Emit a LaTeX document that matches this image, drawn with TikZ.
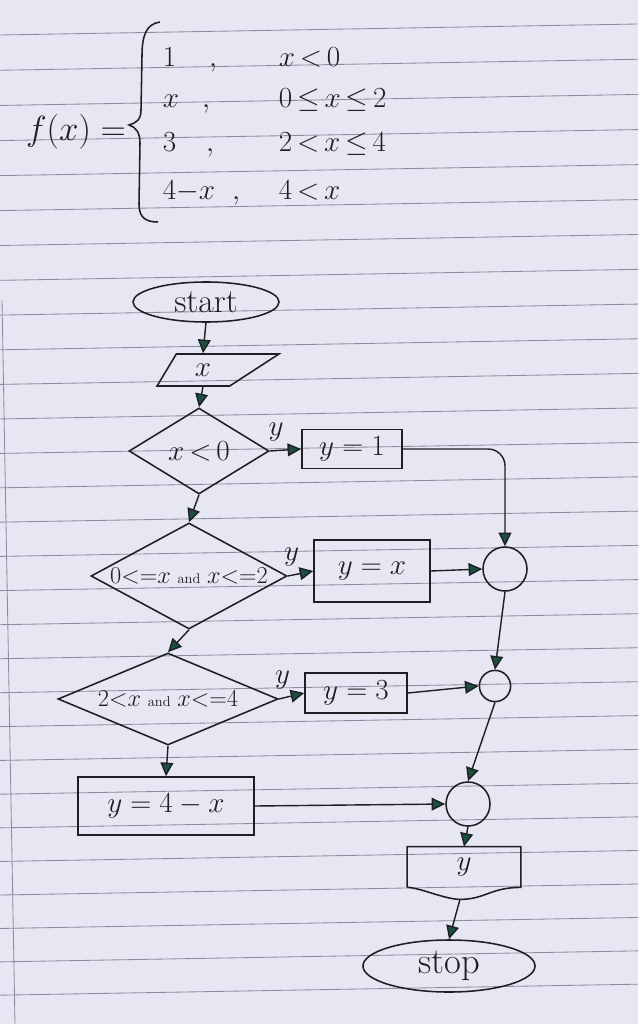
\documentclass[tikz,border=0pt]{standalone}
\usepackage{fontspec}
\usepackage{amsmath}
\usepackage{tikz}
\usetikzlibrary{arrows.meta,shapes.geometric,positioning,calc}

\definecolor{paper}{RGB}{231,230,243}
\definecolor{ruling}{RGB}{140,140,158}
\definecolor{ink}{RGB}{30,30,35}
\definecolor{arrowgreen}{RGB}{26,80,64}

\begin{document}
\begin{tikzpicture}[
      x = 0.025cm, y = -0.025cm, % one unit is one pixel of the sheet
      > = {Triangle[length=3.4mm,width=3.2mm,fill=arrowgreen]}, % arrow head style
      line width = 1.1pt,
      flow/.style = {->, draw = ink, line width = 1pt},
      terminal/.style = {ellipse, draw = ink, text = ink, inner sep = 0pt, font = \fontsize{24}{28}\selectfont},
      inputbox/.style = {trapezium, trapezium left angle = 65, trapezium right angle = 140,
        trapezium stretches = true, draw = ink, text = ink, inner sep = 0pt, font = \fontsize{22}{26}\selectfont},
      decision/.style = {diamond, draw = ink, text = ink, inner sep = 0pt},
      procbox/.style = {rectangle, draw = ink, text = ink, inner sep = 0pt, font = \fontsize{20}{24}\selectfont},
      junction/.style = {circle, draw = ink, inner sep = 0pt},
      answer/.style = {above = 1mm, text = ink, font = \fontsize{20}{24}\selectfont},
      fxrow/.style = {text = ink, inner sep = 0pt, font = \fontsize{22}{26}\selectfont}
      ]

  % the ruled sheet
  \fill[paper] (0,0) rectangle (638,1024);
  \useasboundingbox (0,0) rectangle (638,1024);
  \begin{scope}
    \clip (0,0) rectangle (638,1024);
    \foreach \k [evaluate = \k as \yl using 35+35.3*\k-0.036*\k*\k] in {0,...,28}
      \draw[ruling, line width = 0.6pt] (0,\yl) -- (638,\yl-11);
    \draw[ruling, line width = 0.6pt] (2,300) -- (15,1024);
  \end{scope}

  % definition of f
  \node[fxrow, font = \fontsize{26}{30}\selectfont] (fx) at (76,132) {$f(x)=$};
  \draw[ink] (160,22) .. controls (146,24) and (142,36) .. (142,56) -- (141,110)
    .. controls (141,120) and (136,123) .. (129,125)
    .. controls (136,127) and (140,133) .. (140,143) -- (139,204)
    .. controls (139,217) and (145,222) .. (158,222);
  \foreach \val/\comma/\cond/\row [count=\i] in {1/213/x\,{<}\,0/67, x/206/0\,{\le}\,x\,{\le}\,2/108,
      3/210/2\,{<}\,x\,{\le}\,4/152, 4{-}x/236/4\,{<}\,x/200} {
    \node[fxrow, anchor = base west] (val\i) at (162,\row) {$\val$};
    \node[fxrow, anchor = base] at (\comma,\row) {$,$};
    \node[fxrow, anchor = base west] (cond\i) at (278,\row) {$\cond$};
  }

  % flowchart
  \node[terminal, minimum width = 3.65cm, minimum height = 1cm] (start) at (206,302) {start};
  \node[inputbox, minimum width = 3.05cm, minimum height = 0.8cm] (in) at (203,370) {$x$};
  \node[decision, aspect = 1.65, minimum width = 3.5cm, minimum height = 2.15cm,
    font = \fontsize{22}{26}\selectfont] (d1) at (199,451) {$x\,{<}\,0$};
  \node[decision, aspect = 1.85, minimum width = 4.9cm, minimum height = 2.65cm,
    font = \fontsize{16}{19}\selectfont] (d2) at (189,576)
    {$0{<}{=}x$ {\fontsize{10}{12}\selectfont and} $x{<}{=}2$};
  \node[decision, aspect = 2.4, minimum width = 5.5cm, minimum height = 2.3cm,
    font = \fontsize{16}{19}\selectfont] (d3) at (168,699)
    {$2{<}x$ {\fontsize{10}{12}\selectfont and} $x{<}{=}4$};
  \node[procbox, minimum width = 2.5cm, minimum height = 0.98cm] (b1) at (352,449) {$y=1$};
  \node[procbox, minimum width = 2.9cm, minimum height = 1.55cm] (b2) at (372,571) {$y = x$};
  \node[procbox, minimum width = 2.55cm, minimum height = 1cm] (b3) at (356,693) {$y=3$};
  \node[procbox, minimum width = 4.4cm, minimum height = 1.45cm] (b4) at (166,806) {$y = 4 - x$};
  \node[junction, minimum size = 1.1cm] (c1) at (505,569) {};
  \node[junction, minimum size = 0.78cm] (c2) at (495,686) {};
  \node[junction, minimum size = 1.1cm] (c3) at (468,804) {};
  \node[rectangle, inner sep = 0pt, minimum width = 2.8cm, minimum height = 0.98cm, text = ink,
    font = \fontsize{22}{26}\selectfont] (out) at (464,867) {$y$};
  \coordinate (outbot) at ($(out.south)+(-4,12)$);
  \draw[ink] (out.south west) -- (out.north west) -- (out.north east) -- (out.south east)
    .. controls +(-30,0) and +(25,0) .. (outbot)
    .. controls +(-15,0) and +(12,0) .. (out.south west);
  \node[terminal, minimum width = 4.3cm, minimum height = 1.3cm, font = \fontsize{26}{30}\selectfont]
    (stop) at (449,966) {stop};

  % connectors
  \draw[flow] (start.south) -- (in.north);
  \draw[flow] (in.south) -- (d1.north);
  \draw[flow] (d1.south) -- (d2.north);
  \draw[flow] (d2.south) -- (d3.north);
  \draw[flow] (d3.south) -- (b4.north);
  \draw[flow] (d1.east) -- node[answer, pos = 0.2] {$y$} (b1.west);
  \draw[flow] (d2.east) -- node[answer, pos = 0.15] {$y$} (b2.west);
  \draw[flow] (d3.east) -- node[answer, pos = 0.15] {$y$} (b3.west);
  \draw[flow, rounded corners = 12pt] (b1.east) -| (c1.north);
  \draw[flow] (b2.east) -- (c1.west);
  \draw[flow] (c1.south) -- (c2.north);
  \draw[flow] (b3.east) -- (c2.west);
  \draw[flow] (c2.south) -- (c3.north);
  \draw[flow] (b4.east) -- (c3.west);
  \draw[flow] (c3.south) -- (out.north);
  \draw[flow] (outbot) -- (stop.north);

\end{tikzpicture}
\end{document}
